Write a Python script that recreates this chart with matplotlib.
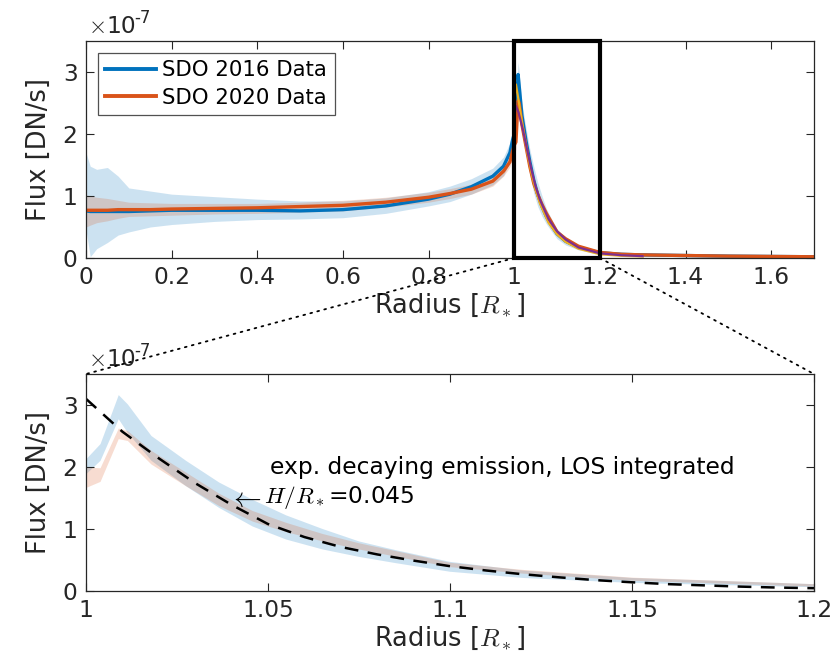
import numpy as np
import matplotlib
matplotlib.use('Agg')
import matplotlib.pyplot as plt
from matplotlib.patches import Rectangle, ConnectionPatch
from matplotlib.ticker import FuncFormatter

plt.rcParams['font.family'] = 'DejaVu Sans'
plt.rcParams['mathtext.fontset'] = 'cm'

# radius grid [R_*], shared by both data sets
radius = [0, 0.01, 0.025, 0.05, 0.075, 0.1, 0.15, 0.2, 0.3, 0.4, 0.5, 0.6, 0.7,
          0.8, 0.85, 0.9, 0.95, 0.975, 0.99, 0.996, 1.0, 1.004, 1.009, 1.0115,
          1.018, 1.0275, 1.0366, 1.0458, 1.055, 1.065, 1.075, 1.085, 1.1, 1.12,
          1.15, 1.2, 1.25, 1.3, 1.4, 1.5, 1.6, 1.7]

# flux in units of 1e-7 DN/s
flux16 = [0.76, 0.75, 0.75, 0.75, 0.75, 0.75, 0.76, 0.77, 0.77, 0.77, 0.76, 0.78, 0.84,
          0.95, 1.03, 1.15, 1.32, 1.48, 1.70, 1.90, 2.00, 2.23, 2.96, 2.78,
          2.30, 1.89, 1.55, 1.25, 1.02, 0.83, 0.67, 0.55, 0.39, 0.27,
          0.17, 0.085, 0.06, 0.05, 0.04, 0.03, 0.025, 0.02]
lo16 = [0.45, 0.02, 0.15, 0.25, 0.37, 0.42, 0.50, 0.54, 0.59, 0.62, 0.63, 0.65, 0.72,
        0.84, 0.91, 1.03, 1.18, 1.33, 1.55, 1.76, 1.88, 2.10, 2.77, 2.55,
        2.10, 1.69, 1.34, 1.04, 0.83, 0.67, 0.55, 0.45, 0.31, 0.21,
        0.13, 0.06, 0.04, 0.035, 0.03, 0.02, 0.015, 0.01]
hi16 = [1.70, 1.48, 1.43, 1.46, 1.32, 1.13, 1.08, 1.03, 0.99, 0.95, 0.92, 0.92, 0.97,
        1.07, 1.16, 1.28, 1.45, 1.63, 1.86, 2.05, 2.12, 2.37, 3.16, 3.01,
        2.50, 2.10, 1.75, 1.47, 1.22, 1.00, 0.80, 0.66, 0.47, 0.33,
        0.21, 0.11, 0.08, 0.065, 0.05, 0.04, 0.035, 0.03]

flux20 = [0.77, 0.77, 0.77, 0.77, 0.78, 0.78, 0.78, 0.79, 0.80, 0.81, 0.83, 0.85, 0.90,
          0.98, 1.04, 1.11, 1.24, 1.40, 1.55, 1.72, 1.82, 1.87, 2.54, 2.50,
          2.15, 1.80, 1.47, 1.20, 1.02, 0.86, 0.72, 0.60, 0.42, 0.31,
          0.19, 0.09, 0.06, 0.05, 0.04, 0.03, 0.025, 0.02]
lo20 = [0.50, 0.53, 0.57, 0.60, 0.64, 0.67, 0.68, 0.69, 0.71, 0.72, 0.74, 0.76, 0.82,
        0.90, 0.96, 1.03, 1.16, 1.32, 1.47, 1.62, 1.66, 1.76, 2.45, 2.42,
        2.04, 1.69, 1.37, 1.12, 0.95, 0.80, 0.67, 0.555, 0.385, 0.28,
        0.165, 0.07, 0.045, 0.04, 0.03, 0.02, 0.015, 0.01]
hi20 = [1.02, 1.00, 0.98, 0.96, 0.93, 0.90, 0.89, 0.88, 0.88, 0.88, 0.90, 0.93, 0.98,
        1.06, 1.12, 1.19, 1.32, 1.48, 1.63, 1.82, 1.99, 1.98, 2.62, 2.58,
        2.26, 1.91, 1.57, 1.29, 1.10, 0.92, 0.77, 0.645, 0.455, 0.34,
        0.215, 0.11, 0.075, 0.06, 0.05, 0.04, 0.035, 0.03]

# model curves shown in the top panel
r_mod = [1.0, 1.004, 1.01, 1.02, 1.03, 1.04, 1.05, 1.06, 1.08, 1.1, 1.12, 1.15, 1.2, 1.25, 1.3]
mod_yellow = [2.55, 2.80, 2.55, 2.12, 1.72, 1.38, 1.10, 0.88, 0.57, 0.38, 0.26, 0.15, 0.06, 0.035, 0.025]
mod_purple = [2.45, 2.45, 2.35, 2.08, 1.75, 1.43, 1.15, 0.94, 0.63, 0.43, 0.30, 0.17, 0.075, 0.045, 0.03]

# exponentially decaying emission, LOS integrated, H/R_* = 0.045
r_exp = [1.0, 1.01, 1.02, 1.03, 1.04, 1.05, 1.06, 1.07, 1.08, 1.09, 1.10,
         1.11, 1.12, 1.13, 1.14, 1.15, 1.16, 1.17, 1.18, 1.19, 1.20]
flux_exp = [3.10, 2.57, 2.14, 1.74, 1.39, 1.08, 0.87, 0.71, 0.59, 0.49, 0.40,
            0.33, 0.27, 0.22, 0.175, 0.14, 0.11, 0.09, 0.07, 0.055, 0.045]

c_blue = '#0072BD'
c_orange = '#D95319'
c_yellow = '#EDB120'
c_purple = '#7E2F8E'
grey = '#262626'
fs = 16.8

sc = 1e-7
r = np.array(radius)

fig = plt.figure(figsize=(8.34, 6.57), dpi=100)
ax1 = fig.add_axes([0.1031, 0.6073, 0.8729, 0.3303])
ax2 = fig.add_axes([0.1031, 0.1005, 0.8729, 0.3302])

def style(ax):
    ax.tick_params(direction='in', top=True, right=True, length=6, width=0.8,
                   colors=grey, labelsize=fs, pad=6)
    for s in ax.spines.values():
        s.set_color(grey)
        s.set_linewidth(0.9)
    ax.yaxis.set_major_formatter(FuncFormatter(lambda v, p: '%g' % round(v / sc, 4)))
    ax.xaxis.set_major_formatter(FuncFormatter(lambda v, p: '%g' % round(v, 4)))
    ax.set_ylabel('Flux [DN/s]', fontsize=18.5, color=grey, labelpad=8)
    ax.set_xlabel(r'Radius [$R_*$]', fontsize=18.5, color=grey, labelpad=2)
    ax.text(0.003, 1.015, r'$\times$', transform=ax.transAxes, fontsize=fs,
            color=grey, ha='left', va='bottom')
    ax.text(0.028, 1.015, '10', transform=ax.transAxes, fontsize=fs,
            color=grey, ha='left', va='bottom')
    ax.text(0.066, 1.065, '-7', transform=ax.transAxes, fontsize=12,
            color=grey, ha='left', va='bottom')

# top panel
ax1.fill_between(r, np.array(lo16) * sc, np.array(hi16) * sc, color=c_blue, alpha=0.2, lw=0)
ax1.fill_between(r, np.array(lo20) * sc, np.array(hi20) * sc, color=c_orange, alpha=0.2, lw=0)
ax1.plot(r, np.array(flux16) * sc, color=c_blue, lw=2.4, label='SDO 2016 Data')
ax1.plot(r, np.array(flux20) * sc, color=c_orange, lw=2.4, label='SDO 2020 Data')
ax1.plot(r_mod, np.array(mod_yellow) * sc, color=c_yellow, lw=1.6)
ax1.plot(r_mod, np.array(mod_purple) * sc, color=c_purple, lw=1.6)
ax1.set_xlim(0, 1.7)
ax1.set_ylim(0, 3.5e-7)
ax1.set_xticks([0, 0.2, 0.4, 0.6, 0.8, 1.0, 1.2, 1.4, 1.6])
ax1.set_yticks([0, 1e-7, 2e-7, 3e-7])
style(ax1)
leg = ax1.legend(loc='upper left', fontsize=15.3, frameon=True, fancybox=False,
                 edgecolor=grey, handlelength=2.4, handletextpad=0.3,
                 borderaxespad=0.55, labelspacing=0.35, borderpad=0.35)
leg.get_frame().set_linewidth(0.9)
for ln in leg.get_lines():
    ln.set_linewidth(2.8)
ax1.add_patch(Rectangle((1.0, 0), 0.2, 3.5e-7, fill=False, ec='k', lw=3, clip_on=False, zorder=5))

# bottom panel
ax2.fill_between(r, np.array(lo16) * sc, np.array(hi16) * sc, color=c_blue, alpha=0.2, lw=0)
ax2.fill_between(r, np.array(lo20) * sc, np.array(hi20) * sc, color=c_orange, alpha=0.2, lw=0)
ax2.plot(r_exp, np.array(flux_exp) * sc, color='k', lw=1.8, dashes=(5.5, 3.8))
ax2.set_xlim(1.0, 1.2)
ax2.set_ylim(0, 3.5e-7)
ax2.set_xticks([1.0, 1.05, 1.1, 1.15, 1.2])
ax2.set_yticks([0, 1e-7, 2e-7, 3e-7])
style(ax2)
ax2.text(1.0505, 2.0e-7, 'exp. decaying emission, LOS integrated', fontsize=fs, va='center')
ax2.text(1.0393, 1.5e-7, r'$\leftarrow$', fontsize=20, va='center')
ax2.text(1.0490, 1.5e-7, r'$H/R_*$=0.045', fontsize=fs, va='center')

# dotted zoom connectors
for xa, xb in [(1.0, 0.0), (1.2, 1.0)]:
    con = ConnectionPatch(xyA=(xa, 0), coordsA='data', axesA=ax1,
                          xyB=(xb, 1.0), coordsB='axes fraction', axesB=ax2,
                          color='k', lw=1.3, linestyle=(0, (1, 3)))
    fig.add_artist(con)

fig.savefig('out.png', dpi=100)
